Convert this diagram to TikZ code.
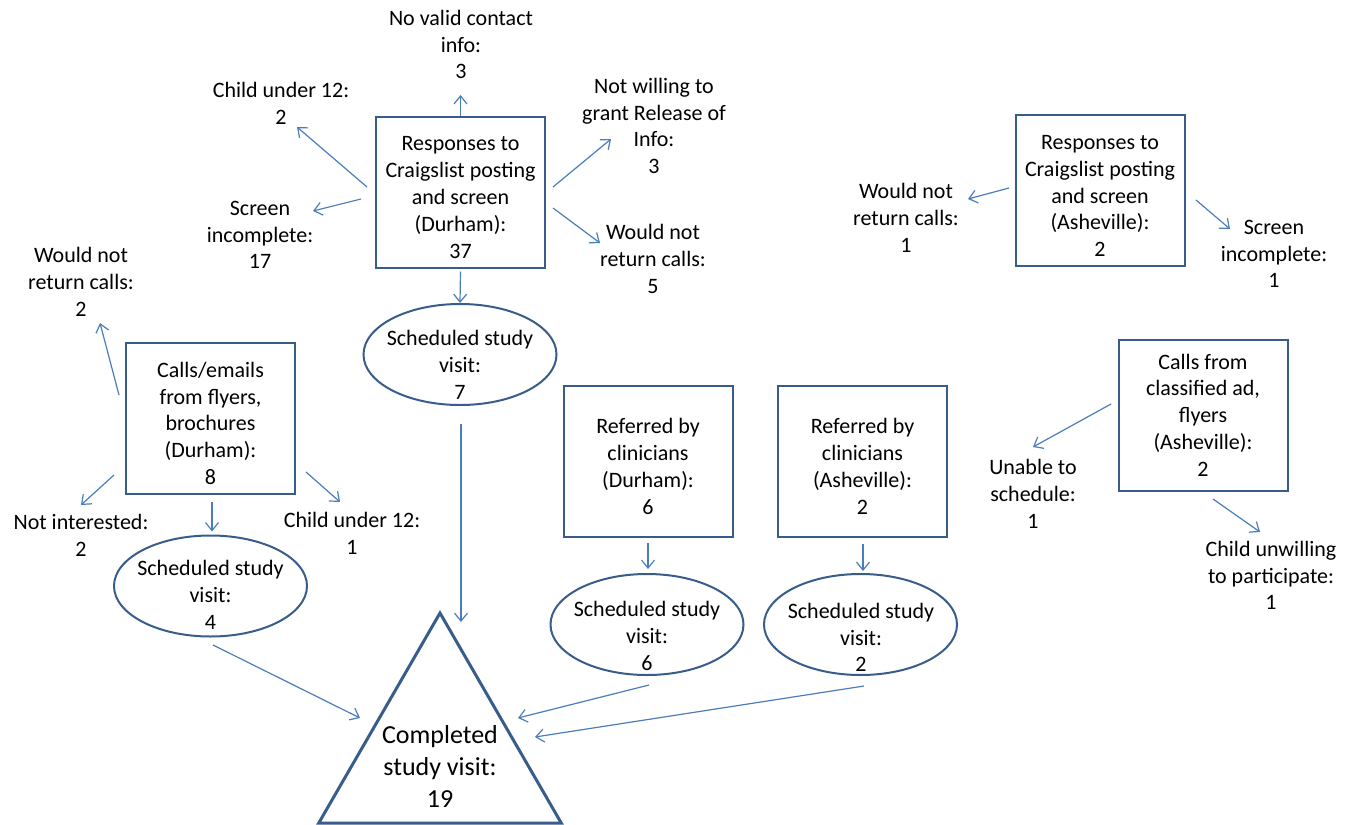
\documentclass[tikz,border=0pt]{standalone}
\usepackage{fontspec}
\setmainfont{Carlito}
\usetikzlibrary{arrows.meta,shapes.geometric}
\definecolor{boxblue}{RGB}{56,93,138}
\definecolor{arrblue}{RGB}{74,126,187}
\newcommand{\lift}{\rule{0pt}{12.5pt}}

\begin{document}
\begin{tikzpicture}[x=0.5pt,y=-0.5pt,
    font=\fontsize{11pt}{13.4pt}\selectfont,
    txt/.style={align=center,inner sep=0pt},
    srcbox/.style={draw=boxblue,line width=1pt,align=center,
      minimum width=84.5pt,minimum height=75.5pt},
    sched/.style={ellipse,draw=boxblue,line width=1pt,
      minimum width=96.5pt,minimum height=50.5pt},
    goal/.style={regular polygon,regular polygon sides=3,draw=boxblue,
      line width=1.5pt,minimum size=140pt},
    flow/.style={draw=arrblue,line width=0.6pt,
      -{Straight Barb[length=4pt,width=6.5pt]}}]
       \useasboundingbox (0,0) rectangle (1345,825);
       % sources
       \node[srcbox] (cld) at (460.5,192) {\lift Responses to\\Craigslist posting\\and screen\\(Durham):\\37};
       \node[srcbox] (cfb) at (210.5,418.5) {\lift Calls/emails\\from flyers,\\brochures\\(Durham):\\8};
       \node[srcbox] (rcd) at (648,461.5) {\lift Referred by\\clinicians\\(Durham):\\6};
       \node[srcbox] (rca) at (862.5,461.5) {\lift Referred by\\clinicians\\(Asheville):\\2};
       \node[srcbox] (cla) at (1100,190.5) {\lift Responses to\\Craigslist posting\\and screen\\(Asheville):\\2};
       \node[srcbox] (ccl) at (1203,415) {Calls from\\classified ad,\\flyers\\(Asheville):\\2};
       % drop-outs
       \node[txt] (nvc) at (461,44.5) {No valid contact\\info:\\3};
       \node[txt] (cu12a) at (281,103.5) {Child under 12:\\2};
       \node[txt] (sia) at (260,235) {Screen\\incomplete:\\17};
       \node[txt] (nwg) at (654,126) {Not willing to\\grant Release of\\Info:\\3};
       \node[txt] (wnra) at (653,259) {Would not\\return calls:\\5};
       \node[txt] (wnrb) at (81,282) {Would not\\return calls:\\2};
       \node[txt] (nint) at (81,535) {Not interested:\\2};
       \node[txt] (cu12b) at (352,533.5) {Child under 12:\\1};
       \node[txt] (wnrc) at (906,218) {Would not\\return calls:\\1};
       \node[txt] (sib) at (1274,254) {Screen\\incomplete:\\1};
       \node[txt] (uts) at (1033,494) {Unable to\\schedule:\\1};
       \node[txt] (cuw) at (1271,575.5) {Child unwilling\\to participate:\\1};
       % scheduled visits
       \node[sched] (sva) at (460,354.5) {};
       \node[txt] (sva-t) at (460,365) {Scheduled study\\visit:\\7};
       \node[sched] (svb) at (210.5,586) {};
       \node[txt] (svb-t) at (210.5,595) {Scheduled study\\visit:\\4};
       \node[sched] (svc) at (647,624.5) {};
       \node[txt] (svc-t) at (647,636) {Scheduled study\\visit:\\6};
       \node[sched] (svd) at (860.5,624.5) {};
       \node[txt] (svd-t) at (861,637.5) {Scheduled study\\visit:\\2};
       % completed
       \node[goal] (tri) at (440,753) {};
       \node[txt,font=\fontsize{13pt}{16pt}\selectfont] (tri-t) at (440,766.5) {Completed\\study visit:\\19};
       % Durham craigslist
       \draw[flow] (cld.north) -- ([shift={(-0.5,50.5)}]nvc.center);
       \draw[flow] ([shift={(-93.5,-5)}]cld.center) -- ([shift={(16,23.5)}]cu12a.center);
       \draw[flow] ([shift={(-99.5,7)}]cld.center) -- ([shift={(53,-24)}]sia.center);
       \draw[flow] ([shift={(92.5,-5)}]cld.center) -- ([shift={(-43,13)}]nwg.center);
       \draw[flow] ([shift={(92.5,16)}]cld.center) -- ([shift={(-53,-16)}]wnra.center);
       \draw[flow] ([shift={(0,3)}]cld.south) -- (sva.north);
       \draw[flow] ([shift={(1,18)}]sva.south) -- ([shift={(21,-131)}]tri.center);
       % Durham flyers
       \draw[flow] ([shift={(-91.5,-23.5)}]cfb.center) -- ([shift={(19,41)}]wnrb.center);
       \draw[flow] ([shift={(-96.5,56.5)}]cfb.center) -- ([shift={(0,-30)}]nint.center);
       \draw[flow] ([shift={(95.5,53.5)}]cfb.center) -- ([shift={(-12,-31.5)}]cu12b.center);
       \draw[flow] ([shift={(1.5,7)}]cfb.south) -- ([shift={(1.5,-3)}]svb.north);
       \draw[flow] ([shift={(2.5,59)}]svb.center) -- ([shift={(-80,-35)}]tri.center);
       % clinicians
       \draw[flow] ([shift={(0,5)}]rcd.south) -- ([shift={(1,-4)}]svc.north);
       \draw[flow] ([shift={(0.5,6)}]rca.south) -- ([shift={(2.5,-2)}]svd.north);
       \draw[flow] ([shift={(2,60.5)}]svc.center) -- ([shift={(78,-35)}]tri.center);
       \draw[flow] ([shift={(3.5,61.5)}]svd.center) -- ([shift={(95,-16)}]tri.center);
       % Asheville
       \draw[flow] ([shift={(-91,-2.5)}]cla.center) -- ([shift={(62,-19)}]wnrc.center);
       \draw[flow] ([shift={(96,9.5)}]cla.center) -- ([shift={(-44,-25)}]sib.center);
       \draw[flow] ([shift={(-92,-11)}]ccl.center) -- ([shift={(0,-47)}]uts.center);
       \draw[flow] ([shift={(10,84)}]ccl.center) -- ([shift={(-11,-43.5)}]cuw.center);
      \end{tikzpicture}
\end{document}
